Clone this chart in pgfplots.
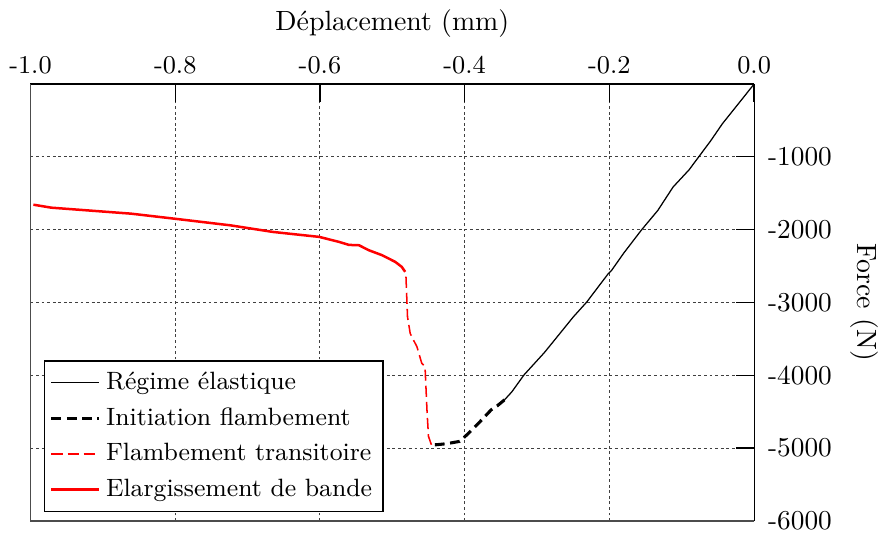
\documentclass[border=0pt]{standalone}
\usepackage{pgfplots}
\pgfplotsset{compat=1.18}
\begin{document}
\begin{tikzpicture}
\begin{axis}[
  scale only axis,
  width=260pt, height=157pt,
  xmin=-1, xmax=0, ymin=-6000, ymax=0,
  axis x line*=top, axis y line*=right,
  xtick={-1,-0.8,-0.6,-0.4,-0.2,0},
  xticklabels={-1.0,-0.8,-0.6,-0.4,-0.2,0.0},
  ytick={-6000,-5000,-4000,-3000,-2000,-1000},
  yticklabels={-6000,-5000,-4000,-3000,-2000,-1000},
  xticklabel style={font=\fontsize{9.2}{11}\selectfont},
  yticklabel style={font=\fontsize{9.8}{11}\selectfont, xshift=1.5pt},
  tick align=inside,
  major tick length=6.5pt,
  tick style={black, line width=0.5pt},
  grid=major,
  major grid style={black!75, line width=0.35pt, dash pattern=on 1pt off 1pt},
  xlabel={D\'eplacement (mm)},
  ylabel={Force (N)},
  ylabel style={rotate=180},
  legend style={at={(0.018,0.02)}, anchor=south west, draw=black, line width=0.6pt, font=\small, row sep=1pt, inner sep=2pt},
  legend cell align=left,
  clip=false,
]
\draw[black!70, line width=0.5pt] (rel axis cs:0,1) -- (rel axis cs:0,0) -- (rel axis cs:1,0);
\addplot[black, line width=0.45pt] coordinates {
(0,0) (-0.02,-250) (-0.044,-548) (-0.06,-780) (-0.0735,-960) (-0.09,-1180)
(-0.112,-1415) (-0.133,-1735) (-0.156,-2009) (-0.18,-2320) (-0.197,-2560) (-0.2014,-2603)
(-0.215,-2780) (-0.231,-2991) (-0.25,-3200) (-0.272,-3470) (-0.29,-3690)
(-0.318,-3995) (-0.335,-4230) (-0.345,-4338)
};
\addlegendentry{R\'egime \'elastique}
\addplot[black, line width=1.1pt, dash pattern=on 3.5pt off 2pt] coordinates {
(-0.345,-4338) (-0.355,-4420) (-0.3634,-4475) (-0.38,-4650) (-0.395,-4800)
(-0.407,-4908) (-0.425,-4940) (-0.439,-4954) (-0.446,-4954)
};
\addlegendentry{Initiation flambement}
\addplot[red, line width=0.55pt, dash pattern=on 4pt off 1.8pt] coordinates {
(-0.446,-4954) (-0.450,-4840) (-0.452,-4500) (-0.4548,-3881) (-0.4593,-3836)
(-0.466,-3607) (-0.4708,-3516) (-0.4753,-3425) (-0.479,-3196) (-0.4813,-2603)
(-0.4822,-2580)
};
\addlegendentry{Flambement transitoire}
\addplot[red, line width=0.9pt] coordinates {
(-0.4822,-2580) (-0.487,-2511) (-0.496,-2443) (-0.514,-2352) (-0.5325,-2283)
(-0.546,-2215) (-0.560,-2210) (-0.5735,-2169) (-0.601,-2100) (-0.665,-2032)
(-0.724,-1941) (-0.802,-1849) (-0.861,-1781) (-0.971,-1699) (-0.996,-1658)
};
\addlegendentry{Elargissement de bande}
\end{axis}
\end{tikzpicture}
\end{document}
